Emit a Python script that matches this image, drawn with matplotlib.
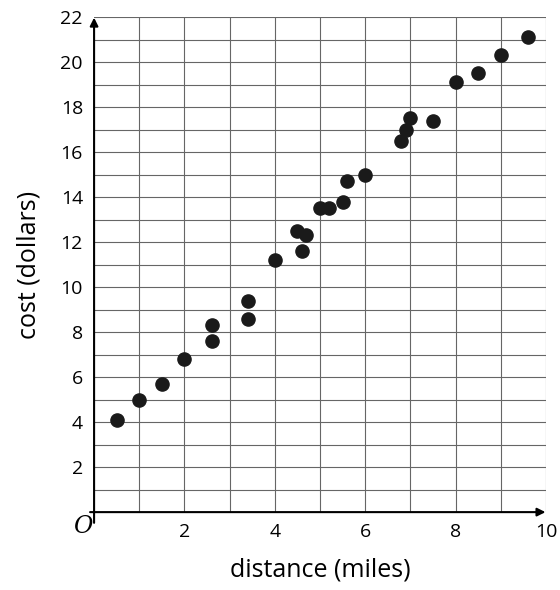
import matplotlib.pyplot as plt

plt.rcParams['font.family'] = ['Open Sans', 'DejaVu Sans']

distance = [0.5, 1.0, 1.5, 2.0, 2.6, 2.6, 3.4, 3.4, 4.0, 4.5, 4.6, 4.7, 5.0, 5.2,
            5.5, 5.6, 6.0, 6.8, 6.9, 7.0, 7.5, 8.0, 8.5, 9.0, 9.6]
cost = [4.1, 5.0, 5.7, 6.8, 7.6, 8.3, 8.6, 9.4, 11.2, 12.5, 11.6, 12.3, 13.5, 13.5,
        13.8, 14.7, 15.0, 16.5, 17.0, 17.5, 17.4, 19.1, 19.5, 20.3, 21.1]
x_ticks = [2, 4, 6, 8, 10]
y_ticks = [2, 4, 6, 8, 10, 12, 14, 16, 18, 20, 22]

fig = plt.figure(figsize=(5.6, 5.9), dpi=100)
ax = fig.add_axes([0.168, 0.132, 0.807, 0.839])
ax.set_xlim(0, 10)
ax.set_ylim(0, 22)

# grid every unit
for i in range(1, 11):
    ax.axvline(i, color='#666666', lw=0.8, zorder=0)
for j in range(1, 23):
    ax.axhline(j, color='#666666', lw=0.8, zorder=0)

for s in ax.spines.values():
    s.set_visible(False)

# axes with arrows
ax.annotate('', xy=(10.05, 0), xytext=(-0.15, 0),
            arrowprops=dict(arrowstyle='-|>', color='black', lw=1.5, mutation_scale=12),
            annotation_clip=False)
ax.annotate('', xy=(0, 22.1), xytext=(0, -0.6),
            arrowprops=dict(arrowstyle='-|>', color='black', lw=1.5, mutation_scale=12),
            annotation_clip=False)

ax.scatter(distance, cost, s=90, color='#1a1a1a', zorder=3, clip_on=False)

ax.set_xticks(x_ticks)
ax.set_yticks(y_ticks)
ax.tick_params(length=0, labelsize=14, pad=8)
ax.text(-0.25, -0.65, 'O', fontsize=17, style='italic', ha='center', va='center',
        family='DejaVu Serif')

ax.set_xlabel('distance (miles)', fontsize=18, labelpad=12)
ax.set_ylabel('cost (dollars)', fontsize=18, labelpad=14)

fig.savefig('out.png', dpi=100)
